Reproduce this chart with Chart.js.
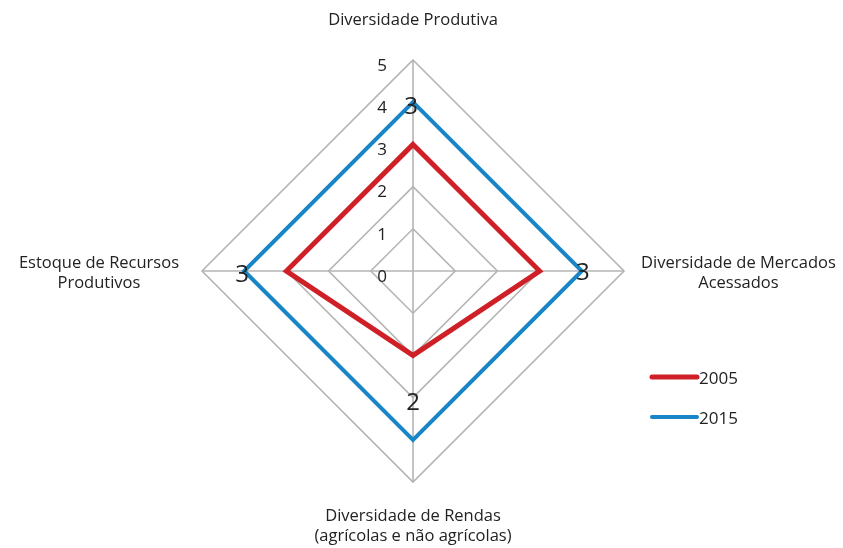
<!DOCTYPE html>
<html>
<head>
<meta charset="utf-8">
<script src="https://cdn.jsdelivr.net/npm/chart.js@4/dist/chart.umd.min.js"></script>
<style>
  html, body { margin: 0; padding: 0; background: #fff; }
  #wrap { width: 843px; height: 548px; }
</style>
</head>
<body>
<div id="wrap"><canvas id="myChart"></canvas></div>
<script>
// Chart data ---------------------------------
const categories = [
  ['Diversidade Produtiva'],
  ['Diversidade de Mercados', 'Acessados'],
  ['Diversidade de Rendas', '(agrícolas e não agrícolas)'],
  ['Estoque de Recursos', 'Produtivos']
];
const seriesNames = ['2005', '2015'];
const values2005 = [3, 3, 2, 3];
const values2015 = [4, 4, 4, 4];
const pointTexts = ['3', '3', '2', '3'];
const tickLabels = ['0', '1', '2', '3', '4', '5'];

const red = 'rgb(207, 32, 39)';
const blue = 'rgb(24, 133, 199)';
const gridGrey = 'rgb(180, 180, 180)';
const textColor = '#222';
const fontFamily = '"Open Sans", "Noto Sans", sans-serif';

// category names, each block centred on its own lines
const catPlugin = {
  id: 'catText',
  afterDraw(chart) {
    const s = chart.scales.r, c = chart.ctx;
    const R = s.drawingArea;
    c.save();
    c.font = '16.5px ' + fontFamily;
    c.fillStyle = textColor;
    c.textAlign = 'center';
    c.textBaseline = 'middle';
    categories.forEach((lines, i) => {
      const v = s.getPointPosition(i, R);
      const w = Math.max(...lines.map(l => c.measureText(l).width));
      let cx = v.x, y0;
      if (i === 0) { y0 = v.y - 40 - (lines.length - 1) * 20; }
      else if (i === 2) { y0 = v.y + 34; }
      else {
        y0 = v.y - 8;
        cx = i === 1 ? v.x + 17 + w / 2 : v.x - 23 - w / 2;
      }
      lines.forEach((l, k) => c.fillText(l, cx, y0 + k * 20));
    });
    c.restore();
  }
};

// tick labels sit left of the vertical axis
const tickPlugin = {
  id: 'tickText',
  afterDraw(chart) {
    const s = chart.scales.r, c = chart.ctx;
    c.save();
    c.font = '17px ' + fontFamily;
    c.fillStyle = textColor;
    c.textAlign = 'center';
    c.textBaseline = 'middle';
    tickLabels.forEach(t => {
      const d = s.getDistanceFromCenterForValue(Number(t));
      c.fillText(t, s.xCenter - 31, s.yCenter - d + 6);
    });
    c.restore();
  }
};

// the big number labels near the 2015 line
const labelOffsets = [[-2, 5], [1, 2], [0, -37], [-2, 4]];
const pointTextPlugin = {
  id: 'pointText',
  afterDraw(chart) {
    const s = chart.scales.r, c = chart.ctx;
    c.save();
    c.font = '24px ' + fontFamily;
    c.fillStyle = textColor;
    c.textAlign = 'center';
    c.textBaseline = 'middle';
    pointTexts.forEach((t, i) => {
      const p = s.getPointPosition(i, s.getDistanceFromCenterForValue(values2015[i]));
      c.fillText(t, p.x + labelOffsets[i][0], p.y + labelOffsets[i][1]);
    });
    c.restore();
  }
};

// legend at the lower right
const legendPlugin = {
  id: 'sideLegend',
  afterDraw(chart) {
    const c = chart.ctx;
    const items = [
      {name: seriesNames[0], color: red, width: 5, y: 377},
      {name: seriesNames[1], color: blue, width: 4, y: 417}
    ];
    c.save();
    c.font = '17px ' + fontFamily;
    c.textBaseline = 'middle';
    c.lineCap = 'round';
    items.forEach(it => {
      c.strokeStyle = it.color;
      c.lineWidth = it.width;
      c.beginPath();
      c.moveTo(652, it.y);
      c.lineTo(697, it.y);
      c.stroke();
      c.fillStyle = textColor;
      c.fillText(it.name, 699, it.y + 2);
    });
    c.restore();
  }
};

const ctx = document.getElementById('myChart').getContext('2d');
const myChart = new Chart(ctx, {
  type: 'radar',
  data: {
    labels: categories,
    datasets: [
      {
        label: seriesNames[0],
        data: values2005,
        borderColor: red,
        borderWidth: 5,
        fill: false,
        pointRadius: 0,
        borderJoinStyle: 'miter'
      },
      {
        label: seriesNames[1],
        data: values2015,
        borderColor: blue,
        borderWidth: 4,
        fill: false,
        pointRadius: 0,
        borderJoinStyle: 'miter'
      }
    ]
  },
  options: {
    responsive: true,
    maintainAspectRatio: false,
    animation: false,
    layout: {padding: {top: 60, bottom: 66, left: 0, right: 17}},
    plugins: {legend: {display: false}, tooltip: {enabled: false}},
    elements: {line: {tension: 0}},
    scales: {
      r: {
        min: 0,
        max: 5,
        ticks: {display: false, stepSize: 1},
        grid: {color: gridGrey, lineWidth: 1.6},
        angleLines: {color: gridGrey, lineWidth: 1.6},
        pointLabels: {display: false}
      }
    }
  },
  plugins: [catPlugin, tickPlugin, pointTextPlugin, legendPlugin]
});
</script>
</body>
</html>
